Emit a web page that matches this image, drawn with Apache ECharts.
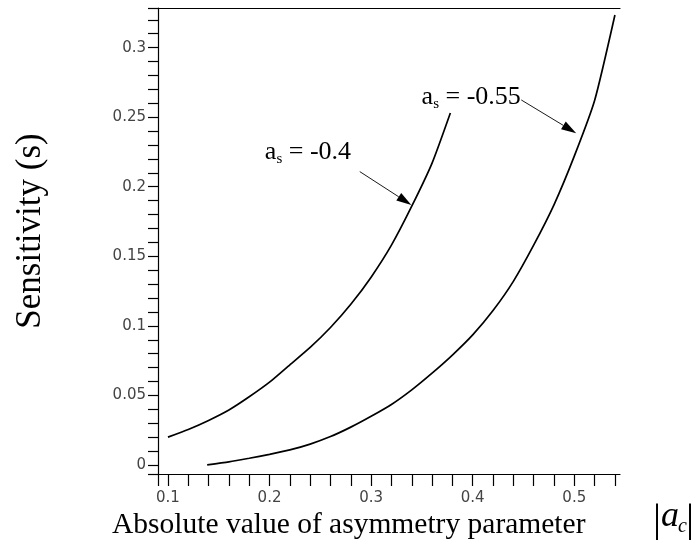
<!DOCTYPE html>
<html>
<head>
<meta charset="utf-8">
<script src="https://cdn.jsdelivr.net/npm/echarts@6/dist/echarts.min.js"></script>
<style>
  html, body { margin: 0; padding: 0; background: #fff; }
  #chart { width: 692px; height: 559px; }
</style>
</head>
<body>
<div id="chart"></div>
<script>
// Sensitivity curves for two values of the asymmetry parameter a_s
const curveA04 = [
  [0.10, 0.020], [0.12, 0.0255], [0.14, 0.032], [0.16, 0.0395], [0.18, 0.049],
  [0.20, 0.0595], [0.22, 0.072], [0.24, 0.0845], [0.26, 0.0988], [0.28, 0.1155],
  [0.30, 0.135], [0.32, 0.158], [0.34, 0.186], [0.36, 0.217], [0.378, 0.253]
];
const curveA055 = [
  [0.1386, 0.0], [0.16, 0.0022], [0.18, 0.0048], [0.20, 0.0076], [0.22, 0.0108],
  [0.24, 0.015], [0.26, 0.0204], [0.28, 0.0272], [0.30, 0.035], [0.32, 0.0435],
  [0.34, 0.054], [0.36, 0.066], [0.38, 0.079], [0.40, 0.0935], [0.42, 0.111],
  [0.44, 0.132], [0.46, 0.158], [0.48, 0.187], [0.50, 0.222], [0.52, 0.262],
  [0.54, 0.3235]
];

// Axis extents and tick positions
const xRange = [0.0902, 0.545];
const yRange = [-0.0065, 0.3285];
const xMinorTicks = [0.10, 0.12, 0.14, 0.16, 0.18, 0.20, 0.22, 0.24, 0.26, 0.28, 0.30,
  0.32, 0.34, 0.36, 0.38, 0.40, 0.42, 0.44, 0.46, 0.48, 0.50, 0.52, 0.54];
const xTickLabels = [0.1, 0.2, 0.3, 0.4, 0.5];
const yMinorTicks = [0, 0.01, 0.02, 0.03, 0.04, 0.05, 0.06, 0.07, 0.08, 0.09, 0.10, 0.11,
  0.12, 0.13, 0.14, 0.15, 0.16, 0.17, 0.18, 0.19, 0.20, 0.21, 0.22, 0.23, 0.24, 0.25,
  0.26, 0.27, 0.28, 0.29, 0.30, 0.31, 0.32];
const yTickLabels = [0, 0.05, 0.1, 0.15, 0.2, 0.25, 0.3];

// Curve labels: text anchor (left edge, vertical middle) and arrow tail -> tip
const labelA04 = { value: '-0.4', at: [0.1954, 0.225] };
const labelA055 = { value: '-0.55', at: [0.3497, 0.2646] };
const arrowA04 = [[0.2888, 0.2109], [0.3396, 0.1869]];
const arrowA055 = [[0.4478, 0.2624], [0.5019, 0.2385]];

const serif = '"Liberation Serif", "Times New Roman", serif';
const sans = '"DejaVu Sans", "Liberation Sans", Arial, sans-serif';

function fmt(v) {
  return String(Math.round(v * 1000) / 1000);
}

const chart = echarts.init(document.getElementById('chart'), null, { renderer: 'canvas' });

const tickLabelStyle = {
  fontFamily: sans,
  fontSize: 15,
  color: '#444'
};

chart.setOption({
  animation: false,
  backgroundColor: '#fff',
  grid: { left: 158, top: 8, right: 72, bottom: 85, containLabel: false },
  xAxis: [{
    type: 'value',
    min: xRange[0],
    max: xRange[1],
    axisLine: { show: true, onZero: false, lineStyle: { color: '#000', width: 1.2 } },
    axisTick: { show: true, inside: false, length: 12, lineStyle: { color: '#000', width: 1.2 },
      customValues: [xRange[0]].concat(xMinorTicks) },
    axisLabel: { show: true, margin: 17, customValues: xTickLabels,
      formatter: fmt, ...tickLabelStyle },
    splitLine: { show: false }
  }, {
    type: 'value',
    position: 'top',
    min: xRange[0],
    max: xRange[1],
    axisLine: { show: true, onZero: false, lineStyle: { color: '#000', width: 1.2 } },
    axisTick: { show: false },
    axisLabel: { show: false },
    splitLine: { show: false }
  }],
  yAxis: {
    type: 'value',
    min: yRange[0],
    max: yRange[1],
    axisLine: { show: true, onZero: false, lineStyle: { color: '#000', width: 1.2 } },
    axisTick: { show: true, inside: false, length: 10, lineStyle: { color: '#000', width: 1.2 },
      customValues: [yRange[0]].concat(yMinorTicks, [yRange[1]]) },
    axisLabel: { show: true, margin: 12, customValues: yTickLabels,
      formatter: fmt, ...tickLabelStyle },
    splitLine: { show: false }
  },
  series: [{
    name: 'a_s = -0.4',
    type: 'line',
    data: curveA04,
    showSymbol: false,
    smooth: 0.2,
    lineStyle: { color: '#000', width: 1.7 }
  }, {
    name: 'a_s = -0.55',
    type: 'line',
    data: curveA055,
    showSymbol: false,
    smooth: 0.2,
    lineStyle: { color: '#000', width: 1.7 }
  }]
});

// Text width helper for laying out the subscripted labels
const measureCtx = document.createElement('canvas').getContext('2d');
function textWidth(str, font) {
  measureCtx.font = font;
  return measureCtx.measureText(str).width;
}

function curveLabel(lbl) {
  const p = chart.convertToPixel({ gridIndex: 0 }, lbl.at);
  const mainFont = '26px ' + serif;
  const subFont = '15px ' + serif;
  const wa = textWidth('a', mainFont);
  const ws = textWidth('s', subFont);
  return [{
    type: 'text', x: p[0], y: p[1],
    style: { text: 'a', font: mainFont, fill: '#000', verticalAlign: 'middle' }
  }, {
    type: 'text', x: p[0] + wa, y: p[1] + 7,
    style: { text: 's', font: subFont, fill: '#000', verticalAlign: 'middle' }
  }, {
    type: 'text', x: p[0] + wa + ws, y: p[1],
    style: { text: ' = ' + lbl.value, font: mainFont, fill: '#000', verticalAlign: 'middle' }
  }];
}

function arrowShape(a) {
  const p0 = chart.convertToPixel({ gridIndex: 0 }, a[0]);
  const p1 = chart.convertToPixel({ gridIndex: 0 }, a[1]);
  const dx = p1[0] - p0[0], dy = p1[1] - p0[1];
  const len = Math.sqrt(dx * dx + dy * dy);
  const ux = dx / len, uy = dy / len;
  const headLen = 15, headHalf = 4.5;
  const bx = p1[0] - ux * headLen, by = p1[1] - uy * headLen;
  return [{
    type: 'line',
    shape: { x1: p0[0], y1: p0[1], x2: bx, y2: by },
    style: { stroke: '#000', lineWidth: 0.9 }
  }, {
    type: 'polygon',
    shape: { points: [
      [p1[0], p1[1]],
      [bx - uy * headHalf, by + ux * headHalf],
      [bx + uy * headHalf, by - ux * headHalf]
    ] },
    style: { fill: '#000' }
  }];
}

const graphics = [].concat(
  curveLabel(labelA04), curveLabel(labelA055),
  arrowShape(arrowA04), arrowShape(arrowA055),
  [{
    type: 'text',
    x: 112,
    y: 540,
    style: {
      text: 'Absolute value of asymmetry parameter',
      font: '29.5px ' + serif,
      fill: '#000',
      verticalAlign: 'bottom'
    }
  }, {
    type: 'text',
    x: 31,
    y: 231,
    rotation: Math.PI / 2,
    style: {
      text: 'Sensitivity (s)',
      font: '35px ' + serif,
      fill: '#000',
      align: 'center',
      verticalAlign: 'middle'
    }
  }, {
    type: 'text',
    x: 653,
    y: 520,
    style: { text: '|', font: '40px ' + serif, fill: '#000', verticalAlign: 'middle' }
  }, {
    type: 'text',
    x: 661,
    y: 517,
    style: { text: 'a', font: 'italic 36px ' + serif, fill: '#000', verticalAlign: 'middle' }
  }, {
    type: 'text',
    x: 678,
    y: 527,
    style: { text: 'c', font: 'italic 20px ' + serif, fill: '#000', verticalAlign: 'middle' }
  }, {
    type: 'text',
    x: 686,
    y: 520,
    style: { text: '|', font: '40px ' + serif, fill: '#000', verticalAlign: 'middle' }
  }]
);

chart.setOption({ graphic: graphics });
</script>
</body>
</html>
